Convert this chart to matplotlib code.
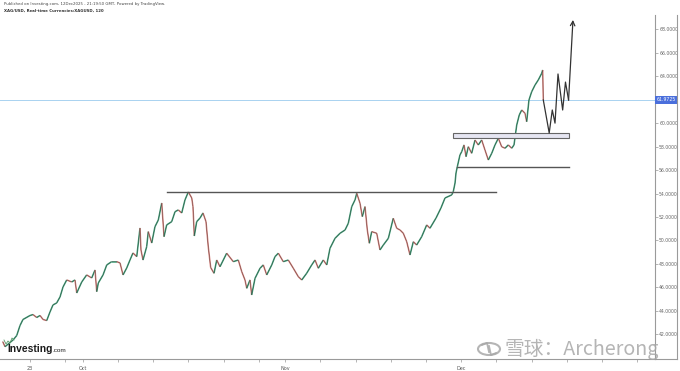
import matplotlib.pyplot as plt
import numpy as np
from matplotlib.collections import LineCollection
from matplotlib.patches import Rectangle, Circle
from matplotlib.lines import Line2D

# XAG/USD 2h chart, x = trading days since 23 Sep, price in USD
bar_day = [-3.10, -2.84, -1.93, -1.51, -1.14, -0.80, 0.00, 0.34, 0.76, 1.14,
           1.48, 1.90, 2.27, 2.61, 3.03, 3.41, 3.75, 4.17, 4.74, 5.11,
           5.31, 5.88, 6.44, 7.01, 7.39, 7.58, 7.76, 8.30, 8.72, 9.28,
           9.85, 10.23, 10.57, 10.99, 11.36, 11.70, 12.13, 12.50, 12.61, 12.84,
           13.26, 13.44, 13.83, 14.20, 14.58, 14.97, 15.23, 15.53, 16.10, 16.48,
           16.85, 17.24, 17.61, 17.99, 18.38, 18.52, 18.67, 18.94, 19.32, 19.66,
           20.00, 20.26, 20.53, 20.91, 21.22, 21.59, 22.35, 23.10, 23.67, 24.06,
           24.43, 24.63, 25.00, 25.19, 25.57, 26.14, 26.51, 26.90, 27.47, 27.84,
           28.22, 28.78, 29.35, 29.92, 30.49, 30.88, 31.44, 32.01, 32.39, 32.76,
           33.33, 33.72, 34.09, 34.66, 35.23, 35.80, 36.17, 36.56, 36.93, 37.13,
           37.50, 37.76, 38.07, 38.33, 38.56, 38.83, 39.40, 39.77, 40.15, 40.72,
           41.28, 41.67, 42.05, 42.42, 42.81, 43.18, 43.56, 43.94, 44.51, 45.08,
           45.45, 46.14, 46.70, 47.16, 47.92, 48.10, 48.30, 48.41, 48.56, 48.86,
           49.06, 49.32, 49.55, 49.81, 50.19, 50.57, 50.94, 51.33, 51.70, 52.08,
           52.47, 52.84, 53.22, 53.60, 53.98, 54.35, 54.74, 55.00, 55.31, 55.60,
           55.88, 56.25, 56.44, 56.70, 57.01, 57.39, 57.76, 58.15, 58.26, 58.33]
bar_close = [41.37, 40.94, 41.51, 41.89, 42.74, 43.26, 43.60, 43.68, 43.43, 43.60,
             43.26, 43.17, 43.90, 44.50, 44.67, 45.18, 46.03, 46.63, 46.46, 46.63,
             45.52, 46.46, 47.06, 46.80, 47.48, 45.63, 46.37, 47.06, 47.91, 48.19,
             48.19, 48.08, 47.06, 47.65, 48.33, 48.93, 48.62, 51.06, 49.19, 48.33,
             49.47, 50.75, 49.78, 51.17, 51.74, 53.19, 50.32, 51.32, 51.60, 52.45,
             52.60, 52.34, 53.45, 54.13, 53.62, 52.88, 50.38, 51.60, 51.91, 52.34,
             51.60, 49.44, 47.69, 47.20, 48.33, 47.76, 48.91, 48.19, 48.33, 47.34,
             46.63, 45.92, 46.63, 45.35, 46.77, 47.63, 47.91, 47.06, 47.91, 48.62,
             48.91, 48.19, 48.33, 47.63, 46.91, 46.63, 47.20, 47.91, 48.33, 47.63,
             48.33, 47.91, 49.33, 50.18, 50.61, 50.89, 51.46, 52.88, 53.45, 54.02,
             53.17, 52.03, 52.88, 50.89, 49.76, 50.75, 50.61, 49.19, 49.61, 50.18,
             51.89, 51.04, 50.89, 50.61, 49.89, 48.76, 49.89, 49.61, 50.32, 51.32,
             51.04, 51.91, 52.77, 53.62, 53.88, 54.16, 54.90, 55.75, 56.29, 57.29,
             57.57, 58.14, 57.14, 57.99, 57.43, 58.56, 58.14, 58.56, 57.71, 56.86,
             57.43, 58.14, 58.71, 57.99, 57.86, 58.14, 57.86, 58.14, 59.84, 60.70,
             61.12, 60.84, 60.12, 61.97, 62.68, 63.25, 63.68, 64.25, 64.53, 61.97]

# hand-drawn projection
proj_day = [58.33, 59.0, 59.35, 59.66, 60.0, 60.53, 60.85, 61.2, 61.7]
proj_price = [61.97, 59.16, 61.12, 60.0, 64.19, 61.12, 63.5, 61.97, 68.8]

last_price = 61.9725
resistance = 54.1
resistance_days = (15.6, 52.9)
support = 56.25
support_days = (48.5, 61.3)
zone_low, zone_high = 58.75, 59.15
zone_days = (48.1, 61.25)

x_labels = ['23', 'Oct', 'Nov', 'Dec']
x_label_days = [0, 6, 29, 49]
y_ticks = [42, 44, 46, 48, 50, 52, 54, 56, 58, 60, 64, 66, 68]

fig = plt.figure(figsize=(6.8, 3.71), dpi=100)
ax = fig.add_axes([0.0, 0.0323, 0.9632, 0.9273])

# price path
pts = np.column_stack([bar_day, bar_close])
segs = np.stack([pts[:-1], pts[1:]], axis=1)
up = np.diff(bar_close) >= 0
cols = np.where(up, '#3f9f78', '#d9827c')
ax.add_collection(LineCollection(segs, colors=cols, linewidths=1.1, zorder=3))
ax.plot(bar_day, bar_close, color='#3a3a3a', lw=0.35, alpha=0.75, zorder=4)

# current price line
ax.axhline(last_price, color='#a9d2f0', lw=0.7, zorder=1)

# levels
ax.plot(resistance_days, [resistance]*2, color='#555555', lw=1.0, zorder=5)
ax.plot(support_days, [support]*2, color='#555555', lw=1.0, zorder=5)
ax.add_patch(Rectangle((zone_days[0], zone_low), zone_days[1]-zone_days[0],
                       zone_high-zone_low, facecolor='#e6e6f2',
                       edgecolor='#666666', lw=0.8, zorder=5))

# projection arrow
ax.plot(proj_day[:-1], proj_price[:-1], color='#333333', lw=0.9, zorder=6)
ax.annotate('', xy=(proj_day[-1], proj_price[-1]),
            xytext=(proj_day[-2], proj_price[-2]),
            arrowprops=dict(arrowstyle='->', color='#333333', lw=0.9,
                            mutation_scale=8, shrinkA=0, shrinkB=0), zorder=6)

# axes styling
for s in ['top', 'left']:
    ax.spines[s].set_visible(False)
ax.spines['right'].set_color('#9a9a9a')
ax.spines['bottom'].set_color('#9a9a9a')
ax.spines['right'].set_linewidth(0.8)
ax.spines['bottom'].set_linewidth(0.8)

ax.yaxis.tick_right()
ax.set_yticks(y_ticks)
ax.set_yticklabels(['%.4f' % v for v in y_ticks])
ax.tick_params(axis='y', labelsize=3.3, labelcolor='#666666', color='#999999',
               length=2, width=0.5, pad=1)

minor = []
anchors = x_label_days + [72]
for a, b in zip(anchors[:-1], anchors[1:]):
    minor += list(np.arange(a, b, 4))
ax.set_xticks(minor, minor=True)
ax.set_xticks(x_label_days)
ax.set_xticklabels(x_labels)
ax.tick_params(axis='x', which='both', labelsize=3.5, labelcolor='#555555',
               color='#999999', length=2, width=0.5, pad=3)

ax.set_xlim(-3.41, 71.02)
ax.set_ylim(39.89, 69.22)

# price label on axis
ax.text(1.003, last_price, '%.4f' % last_price, transform=ax.get_yaxis_transform(),
        ha='left', va='center', fontsize=3.3, color='white',
        bbox=dict(boxstyle='square,pad=0.35', facecolor='#4a6fdc', edgecolor='none'))

# right frame + bottom extension
fig.add_artist(Line2D([677/680, 677/680], [0.0323, 0.9596], color='#9a9a9a', lw=0.8))
fig.add_artist(Line2D([0.9632, 677/680], [0.0323, 0.0323], color='#9a9a9a', lw=0.8))

# header
fig.text(4/680, 1-4/371, 'Published on Investing.com, 12Dec2025 - 21:19:50 GMT, Powered by TradingView.',
         fontsize=2.8, color='#444444', va='center', ha='left')
fig.text(4/680, 1-11/371, 'XAG/USD, Real-time Currencies:XAGUSD, 120',
         fontsize=2.8, color='#333333', va='center', ha='left', fontweight='bold')

# Investing.com logo
fig.text(7/680, 1-349/371, 'Investing', fontsize=7.4, fontweight='bold', color='#1a1a1a',
         family='Liberation Sans', va='center', ha='left')
fig.text(52/680, 1-350/371, '.com', fontsize=4.6, color='#1a1a1a',
         family='Liberation Sans', va='center', ha='left')
fig.add_artist(Line2D(np.array([4, 6, 8, 10, 12, 14]) / 680,
                      1 - np.array([340, 344, 341, 343, 338, 340]) / 371,
                      color='#5a9a6a', lw=0.6))

# watermark
wm_color = '#a8a8a8'
fig.text(505/680, 1-349/371, '雪球：Archerong', fontsize=14.2, color=wm_color, alpha=0.85,
         family=['Noto Sans CJK SC', 'DejaVu Sans'], va='center', ha='left')
cx, cy = 489, 349
fig.add_artist(Circle((cx/680, 1-cy/371), 11/680, transform=fig.transFigure,
                      fill=False, edgecolor=wm_color, lw=1.5, alpha=0.85))
fig.add_artist(Line2D(np.array([482, 487, 489]) / 680, 1 - np.array([345, 343, 352]) / 371,
                      color=wm_color, lw=1.3, alpha=0.85))
fig.add_artist(Line2D(np.array([489, 491, 496]) / 680, 1 - np.array([346, 355, 353]) / 371,
                      color=wm_color, lw=1.3, alpha=0.85))

fig.savefig('out.png', dpi=100)
